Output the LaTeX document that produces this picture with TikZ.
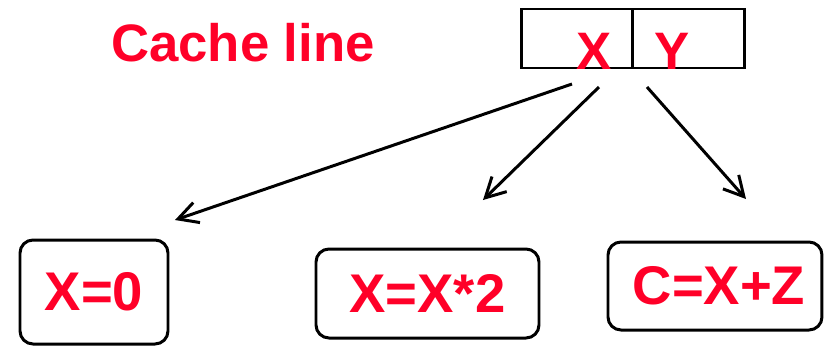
\documentclass[tikz,border=0pt]{standalone}
\usepackage{fontspec}
\setmainfont{Liberation Sans}
\usetikzlibrary{arrows.meta,positioning}
\definecolor{labelred}{RGB}{255,0,40}
\tikzset{
    redlabel/.style={
        text=labelred,
        font=\fontsize{15pt}{18pt}\selectfont\bfseries,
        inner sep=0pt
    },
    linecell/.style={
        draw,
        line width=0.75pt,
        outer sep=0pt,
        minimum width=1.115cm,
        minimum height=0.59cm
    },
    opbox/.style={
        draw,
        line width=0.85pt,
        rounded corners=0.13cm,
        text=labelred,
        font=\fontsize{15.5pt}{18pt}\selectfont\bfseries
    },
    useline/.style={
        line width=0.85pt,
        -{Straight Barb[length=5.6pt,width=6pt]}
    }
}
\begin{document}
\begin{tikzpicture}
                \useasboundingbox (0,0) rectangle (8.27,3.45);
                % the cache line and its two words
                \node[redlabel] (title) at (2.43, 3.02) {Cache line};
                \node[linecell] (cellx) at (5.77, 3.065) {};
                \node[linecell, right=0pt of cellx] (celly) {};
                \node[redlabel] (wordx) at (5.94, 2.94) {X};
                \node[redlabel] (wordy) at (6.72, 2.94) {Y};
                % the three uses
                \node[opbox, minimum width=1.48cm, minimum height=1.04cm] (zero) at (0.94, 0.53) {X=0};
                \node[opbox, minimum width=2.23cm, minimum height=0.89cm] (double) at (4.275, 0.515) {X=X*2};
                \node[opbox, minimum width=2.14cm, minimum height=0.88cm] (sum) at (7.15, 0.59) {\hspace{0.08cm}C=X+Z};
                \coordinate (P1) at (5.72, 2.61);
                \coordinate (P2) at (1.75, 1.25);
                \coordinate (P3) at (5.99, 2.58);
                \coordinate (P4) at (4.83, 1.45);
                \coordinate (P5) at (6.47, 2.58);
                \coordinate (P6) at (7.46, 1.46);
                \draw[useline] (P1) -- (P2);
                \draw[useline] (P3) -- (P4);
                \draw[useline] (P5) -- (P6);
            \end{tikzpicture}
\end{document}
